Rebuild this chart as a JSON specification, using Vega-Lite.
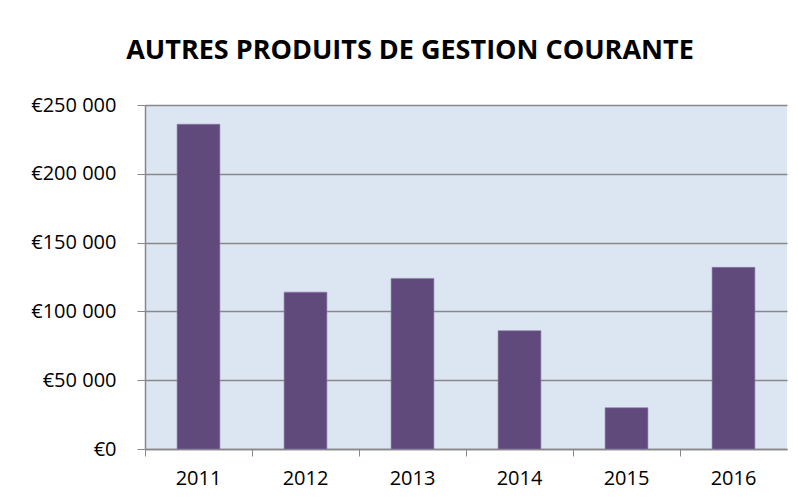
{
  "$schema": "https://vega.github.io/schema/vega-lite/v6.json",
  "autosize": "none",
  "padding": {"left": 145, "top": 105, "right": 11, "bottom": 53},
  "width": 642,
  "height": 344,
  "background": "white",
  "title": {
    "text": "AUTRES PRODUITS DE GESTION COURANTE",
    "font": "Open Sans",
    "fontSize": 27,
    "fontWeight": "bold",
    "color": "#000000",
    "anchor": "middle",
    "frame": "group",
    "dx": -56,
    "offset": 30
  },
  "data": {
    "values": [
      {"annee": "2011", "montant": 236000},
      {"annee": "2012", "montant": 114000},
      {"annee": "2013", "montant": 124000},
      {"annee": "2014", "montant": 86000},
      {"annee": "2015", "montant": 30000},
      {"annee": "2016", "montant": 132000}
    ]
  },
  "mark": {"type": "bar", "color": "#604a7b", "width": {"band": 0.4}, "stroke": "#8c7aa8", "strokeWidth": 0.6},
  "encoding": {
    "x": {
      "field": "annee",
      "type": "ordinal",
      "scale": {"paddingInner": 0, "paddingOuter": 0},
      "axis": {
        "title": null,
        "labelAngle": 0,
        "bandPosition": 0,
        "labelFont": "Open Sans",
        "labelFontSize": 20,
        "labelColor": "#000000",
        "labelPadding": 12,
        "tickColor": "#888888",
        "tickSize": 7,
        "domainColor": "#888888",
        "domainWidth": 1.5,
        "grid": false
      }
    },
    "y": {
      "field": "montant",
      "type": "quantitative",
      "scale": {"domain": [0, 250000], "nice": false},
      "axis": {
        "title": null,
        "values": [0, 50000, 100000, 150000, 200000, 250000],
        "labelExpr": "'€' + replace(format(datum.value, ','), ',', ' ')",
        "labelFont": "Open Sans",
        "labelFontSize": 20,
        "labelColor": "#000000",
        "labelPadding": 21,
        "tickColor": "#888888",
        "tickSize": 8,
        "domainColor": "#888888",
        "domainWidth": 1.5,
        "gridColor": "#888888",
        "gridWidth": 1.5
      }
    }
  },
  "config": {
    "view": {"fill": "#dce6f2", "stroke": null}
  }
}
